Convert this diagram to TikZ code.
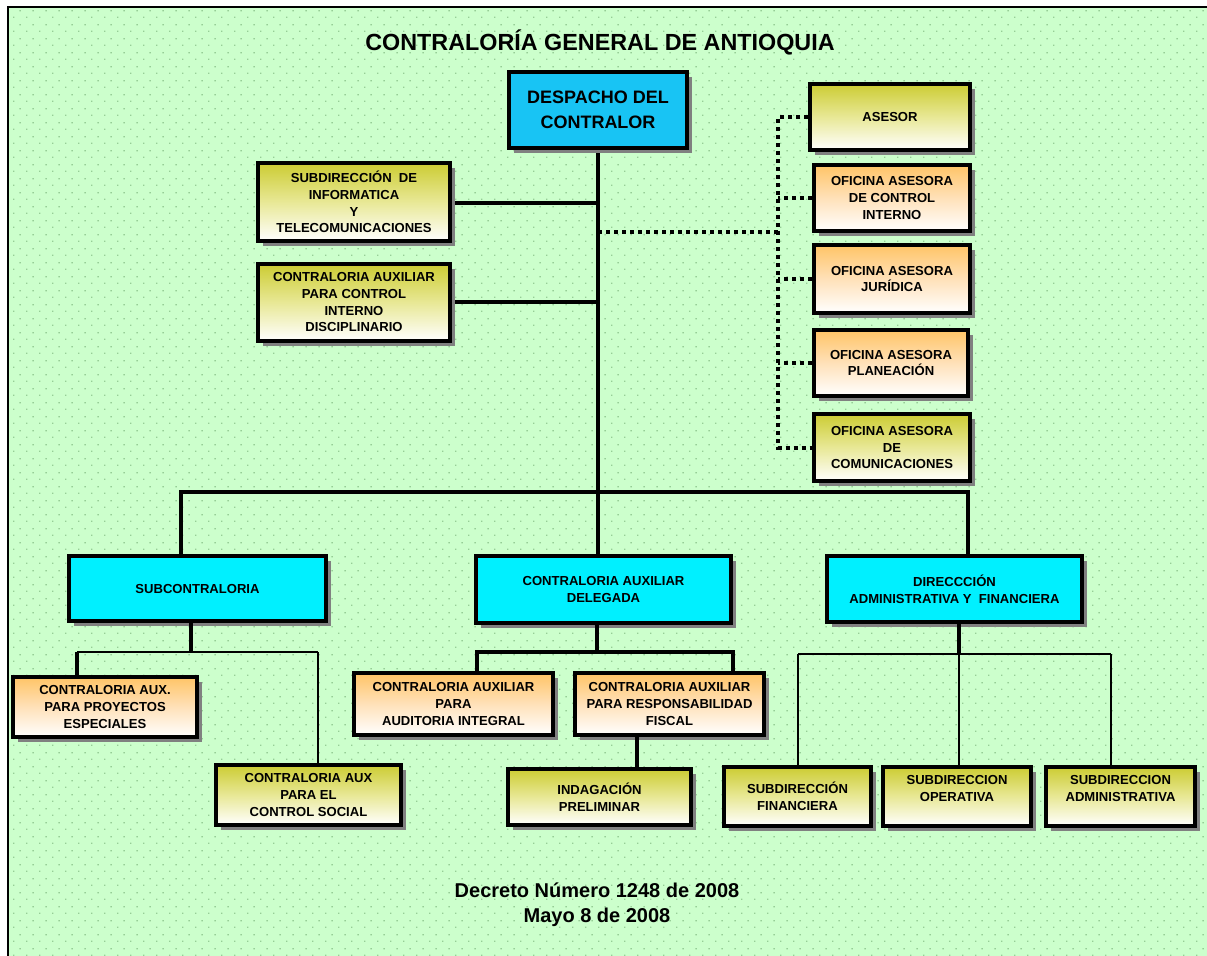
\documentclass[tikz,border=0pt]{standalone}
\usepackage{fontspec}
\setmainfont{Liberation Sans}
\usetikzlibrary{shadows,patterns.meta}
\definecolor{bggreen}{RGB}{204,255,204}
\definecolor{dotgreen}{RGB}{150,205,150}
\definecolor{desccol}{RGB}{24,196,244}
\definecolor{cyanbox}{RGB}{0,240,255}
\definecolor{ytop}{RGB}{204,204,51}
\definecolor{ymid}{RGB}{232,232,150}
\definecolor{otop}{RGB}{255,196,102}
\definecolor{omid}{RGB}{255,225,185}
\newcommand\bxfont{\fontsize{9.8}{12.5}\selectfont\bfseries}
\tikzdeclarepattern{
  name=bgdots, type=colored,
  bottom left={(0pt,0pt)}, top right={(10pt,10.5pt)},
  tile size={(10pt,10.5pt)},
  code={\fill[dotgreen] (0pt,0pt) rectangle (1.1pt,1.1pt);
        \fill[dotgreen] (5pt,5.25pt) rectangle (6.1pt,6.35pt);}
}
\tikzset{
  box/.style={draw=black, line width=3pt, align=center, inner sep=2pt, font=\bxfont,
    drop shadow={shadow xshift=4pt, shadow yshift=-4pt, fill=black!50, opacity=1}},
  ybox/.style={box, top color=ytop, bottom color=white, middle color=ymid},
  obox/.style={box, top color=otop, bottom color=white, middle color=omid},
  cbox/.style={box, fill=cyanbox},
  thickline/.style={line width=3pt},
  medline/.style={line width=1.5pt},
  thinline/.style={line width=1pt},
  dotline/.style={line width=3pt, dash pattern=on 3pt off 3pt},
}
\begin{document}
\begin{tikzpicture}[x=0.75pt,y=-0.75pt]
\useasboundingbox (0,0) rectangle (1207,956);
\fill[white] (0,0) rectangle (1207,956);
\fill[bggreen] (7,6) rectangle (1207,956);
\fill[pattern=bgdots] (7,6) rectangle (1207,956);
\draw[line width=1.5pt] (8,956) -- (8,7) -- (1207,7);

% title and footer
\node (title) at (600,42) {\fontsize{17.5}{20}\selectfont\bfseries CONTRALORÍA GENERAL DE ANTIOQUIA};
\node[align=center, font=\fontsize{15}{18.75}\selectfont\bfseries] (foot) at (597,905)
  {Decreto Número 1248 de 2008\\Mayo 8 de 2008};

% coordinates for connector junctions
\coordinate (bL) at (181,492);
\coordinate (bR) at (968,492);
\coordinate (dA) at (598,232);
\coordinate (dV) at (778,232);
\coordinate (sj) at (191,652);
\coordinate (sL) at (77,652);
\coordinate (sR) at (318,652);
\coordinate (gj) at (597,652);
\coordinate (gL) at (477,652);
\coordinate (gR) at (733,652);
\coordinate (fj) at (637,740);
\coordinate (rj) at (959,654);
\coordinate (rL) at (798,654);
\coordinate (rR) at (1111,654);

% connectors (drawn first, boxes on top)
\coordinate (dsp) at (598,150);
\draw[thickline] (dsp) -- (598,556);
\draw[thickline] (354,203) -- (598,203);
\draw[thickline] (354,302) -- (598,302);
\draw[thickline] (bL |- 0,556) -- (bL) -- (bR) -- (bR |- 0,556);
\draw[dotline] (dA) -- (dV);

% boxes
\node[box, fill=desccol, minimum width=133.5pt, minimum height=57pt, font=\fontsize{13.5}{19}\selectfont\bfseries] (desp) at (598,110) {DESPACHO DEL\\CONTRALOR};
\node[ybox, minimum width=144pt, minimum height=58.5pt] (info) at (354,202) {SUBDIRECCIÓN\ \ DE\\INFORMATICA\\Y\\TELECOMUNICACIONES};
\node[ybox, minimum width=144pt, minimum height=57.75pt] (cid) at (354,302.5) {CONTRALORIA AUXILIAR\\PARA CONTROL\\INTERNO\\DISCIPLINARIO};

\node[ybox, minimum width=120pt, minimum height=49.5pt] (ase) at (890,117) {ASESOR};
\node[obox, minimum width=117pt, minimum height=49.5pt] (oci) at (892,198) {OFICINA ASESORA\\DE CONTROL\\INTERNO};
\node[obox, minimum width=117pt, minimum height=51pt] (oju) at (892,279) {OFICINA ASESORA\\JURÍDICA};
\node[obox, minimum width=115.5pt, minimum height=49.5pt] (opl) at (891,363) {OFICINA ASESORA\\PLANEACIÓN};
\node[ybox, minimum width=117pt, minimum height=50.25pt] (oco) at (892,447.5) {OFICINA ASESORA\\DE\\COMUNICACIONES};

\node[cbox, minimum width=192.75pt, minimum height=48.75pt] (subc) at (197.5,588.5) {SUBCONTRALORIA};
\node[cbox, minimum width=191.25pt, minimum height=50.25pt] (deleg) at (603.5,589.5) {CONTRALORIA AUXILIAR\\DELEGADA};
\node[cbox, minimum width=191.25pt, minimum height=49.5pt] (dir) at (954.5,589) {DIRECCCIÓN\\ADMINISTRATIVA Y\ \ FINANCIERA};

\node[obox, minimum width=138pt, minimum height=45pt] (pe) at (105,707) {CONTRALORIA AUX.\\PARA PROYECTOS\\ESPECIALES};
\node[ybox, minimum width=138.75pt, minimum height=45pt] (cs) at (308.5,795) {CONTRALORIA AUX\\PARA EL\\CONTROL SOCIAL};
\node[obox, minimum width=149.25pt, minimum height=46.5pt] (ai) at (453.5,704) {CONTRALORIA AUXILIAR\\PARA\\AUDITORIA INTEGRAL};
\node[obox, minimum width=141.75pt, minimum height=46.5pt] (rf) at (669.5,704) {CONTRALORIA AUXILIAR\\PARA RESPONSABILIDAD\\FISCAL};
\node[ybox, minimum width=137.25pt, minimum height=42pt] (ip) at (599.5,797) {INDAGACIÓN\\PRELIMINAR};
\node[ybox, minimum width=110.25pt, minimum height=44.25pt] (sf) at (797.5,796.5) {SUBDIRECCIÓN\\FINANCIERA};
\node[ybox, minimum width=111pt, minimum height=44.25pt] (so) at (957,796.5) {SUBDIRECCION\\OPERATIVA\\[-0.5pt]};
\node[ybox, minimum width=111.75pt, minimum height=44.25pt] (sa) at (1120.5,796.5) {SUBDIRECCION\\ADMINISTRATIVA\\[-0.5pt]};

% dotted advisory connectors
\draw[dotline] (ase.west) -| (oco.west -| dV) -- (oco.west);
\draw[dotline] (oci.west) -- (oci.west -| dV);
\draw[dotline] (oju.west) -- (oju.west -| dV);
\draw[dotline] (opl.west) -- (opl.west -| dV);

% subcontraloria branch
\draw[thickline] (subc.south -| sj) -- (sj);
\draw[thickline] (sL) -- (pe.north -| sL);
\draw[medline] (sL) -- (sR);
\draw[thinline] (sR) -- (cs.north -| sR);

% delegada branch
\draw[thickline] (deleg.south -| gj) -- (gj);
\draw[thickline] (ai.north -| gL) -- (gL) -- (gR) -- (rf.north -| gR);
\draw[thickline] (rf.south -| fj) -- (ip.north -| fj);

% direccion branch
\draw[thickline] (dir.south -| rj) -- (rj);
\draw[medline] (rL) -- (rR);
\draw[thinline] (rL) -- (sf.north -| rL);
\draw[thinline] (rj) -- (so.north -| rj);
\draw[thinline] (rR) -- (sa.north -| rR);
\end{tikzpicture}
\end{document}
